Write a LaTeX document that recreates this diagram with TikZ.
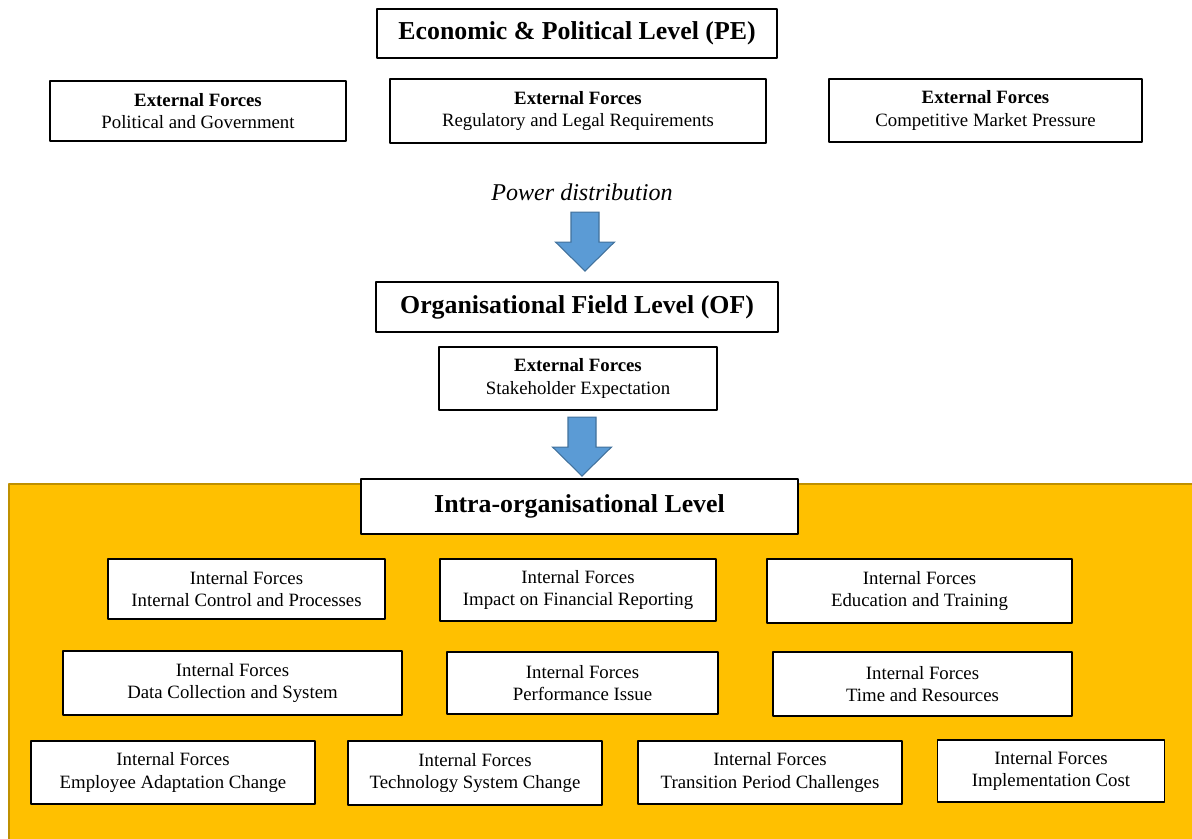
\documentclass[tikz,border=0pt]{standalone}
\usepackage{fontspec}
\setmainfont{Liberation Serif}
\usetikzlibrary{calc}
\definecolor{arrowblue}{RGB}{91,155,213}
\definecolor{arrowedge}{RGB}{65,113,156}
\definecolor{bandfill}{RGB}{255,192,0}
\definecolor{bandedge}{RGB}{191,144,0}
\begin{document}
\begin{tikzpicture}[x=0.02cm,y=-0.02cm,line join=round,
	levelbox/.style={draw,line width=1.1pt,fill=white,inner sep=0pt,font=\fontsize{14.7}{17}\selectfont\bfseries},
	forcebox/.style={draw,line width=1.1pt,fill=white,inner sep=0pt,align=center,font=\fontsize{10.7}{12.8}\selectfont},
	sz/.style 2 args={minimum width=#1*0.02cm,minimum height=#2*0.02cm}]
	\tikzset{downarrow/.pic={\draw[arrowedge,fill=arrowblue,line width=0.6pt,line join=miter] (0,0)--(-29.5,-29)--(-14,-29)--(-14,-59)--(14,-59)--(14,-29)--(29.5,-29)--cycle;}}
	\useasboundingbox (0,0) rectangle (1192,838);
	% economic and political level
	\node[levelbox,sz={400}{49}] (pe) at (577,33.5) {Economic \& Political Level (PE)};
	\node[forcebox,sz={296}{60}] (polgov) at (198,111) {\textbf{External Forces}\\Political and Government};
	\node[forcebox,sz={376}{64}] (regleg) at (578,111) {\textbf{External Forces}\\Regulatory and Legal Requirements};
	\node[forcebox,sz={313}{63}] (compmkt) at (985.5,110.5) {\textbf{External Forces}\\Competitive Market Pressure};
	\node (power) at (582,192) {\fontsize{13.7}{16}\selectfont\itshape Power distribution};
	% organisational field level
	\node[levelbox,sz={402}{50}] (of) at (577,307) {Organisational Field Level (OF)};
	\node[forcebox,sz={278}{63}] (stake) at (578,378.5) {\textbf{External Forces}\\Stakeholder Expectation};
	\pic at ($(of.north)+(8,-10)$) {downarrow};
	% intra-organisational level
	\draw[bandedge,fill=bandfill,line width=0.6pt] (9,484) rectangle (1200,850);
	\node[levelbox,sz={437}{55}] (intra) at (579.5,506.5) {Intra-organisational Level};
	\pic at ($(intra.north)+(2.5,-2)$) {downarrow};
	\node[forcebox,sz={277}{60}] (ctrl) at (246.5,589) {Internal Forces\\Internal Control and Processes};
	\node[forcebox,sz={276}{62}] (finrep) at (578,590) {Internal Forces\\Impact on Financial Reporting};
	\node[forcebox,sz={305}{64}] (edutrain) at (919.5,591) {Internal Forces\\Education and Training};
	\node[forcebox,sz={339}{64}] (datasys) at (232.5,683) {Internal Forces\\Data Collection and System};
	\node[forcebox,sz={271}{62}] (perf) at (582.5,683) {Internal Forces\\Performance Issue};
	\node[forcebox,sz={299}{64}] (timeres) at (922.5,684) {Internal Forces\\Time and Resources};
	\node[forcebox,sz={284}{63}] (empadapt) at (173,772.5) {Internal Forces\\Employee Adaptation Change};
	\node[forcebox,sz={254}{64}] (techsys) at (475,773) {Internal Forces\\Technology System Change};
	\node[forcebox,sz={264}{63}] (transit) at (770,772.5) {Internal Forces\\Transition Period Challenges};
	\node[forcebox,sz={227}{62}] (implcost) at (1051,771) {Internal Forces\\Implementation Cost};
\end{tikzpicture}
\end{document}
